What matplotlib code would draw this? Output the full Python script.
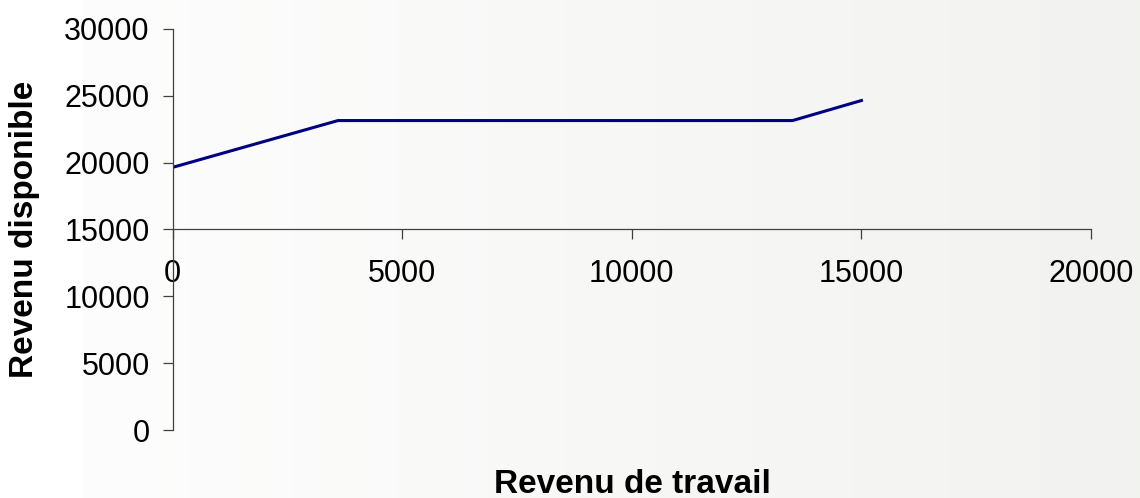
import numpy as np
import matplotlib
matplotlib.use('Agg')
import matplotlib.pyplot as plt

# Revenu de travail -> revenu disponible
REVENU_TRAVAIL = [0, 3600, 13500, 15000]
REVENU_DISPONIBLE = [19650, 23150, 23150, 24650]

X_TICKS = [0, 5000, 10000, 15000, 20000]
Y_TICKS = [0, 5000, 10000, 15000, 20000, 25000, 30000]

plt.rcParams['font.family'] = ['Liberation Sans', 'DejaVu Sans']

W, H = 1140, 498
fig = plt.figure(figsize=(W / 100, H / 100), dpi=100)
fig.patch.set_facecolor('white')

# light horizontal gradient behind the chart area (white strip on the far left)
bg = fig.add_axes([83 / W, 0, 1 - 83 / W, 1], zorder=-10)
grad = np.linspace(0, 1, 256)
c0 = np.array([0.992, 0.992, 0.992])
c1 = np.array([0.949, 0.953, 0.941])
img = c0[None, :] * (1 - grad[:, None]) + c1[None, :] * grad[:, None]
bg.imshow(img[None, :, :], aspect='auto', extent=(0, 1, 0, 1))
bg.set_axis_off()

left, right = 172.7 / W, 1091 / W
bottom, top = (H - 430) / H, (H - 29) / H
ax = fig.add_axes([left, bottom, right - left, top - bottom])
ax.patch.set_visible(False)

ax.plot(REVENU_TRAVAIL, REVENU_DISPONIBLE, color='#000080', linewidth=2.2,
        solid_joinstyle='miter')

ax.set_xlim(0, 20000)
ax.set_ylim(0, 30000)
ax.set_xticks(X_TICKS)
ax.set_yticks(Y_TICKS)
ax.set_xticklabels([str(v) for v in X_TICKS])
ax.set_yticklabels([str(v) for v in Y_TICKS])

ax.spines['top'].set_visible(False)
ax.spines['right'].set_visible(False)
ax.spines['bottom'].set_position(('data', 15000))
for s in ('left', 'bottom'):
    ax.spines[s].set_color('#404040')
    ax.spines[s].set_linewidth(0.9)

ax.tick_params(axis='both', direction='out', length=7.5, width=0.9,
               color='#404040', labelsize=22, labelcolor='black')
ax.tick_params(axis='x', pad=14)
ax.tick_params(axis='y', pad=9)

fig.text(632 / W, 1 - 484 / H, 'Revenu de travail', ha='center', va='center',
         fontsize=24, fontweight='bold')
fig.text(25 / W, 1 - 229 / H, 'Revenu disponible', ha='center', va='center',
         rotation=90, fontsize=24, fontweight='bold')

fig.savefig('out.png', dpi=100)
